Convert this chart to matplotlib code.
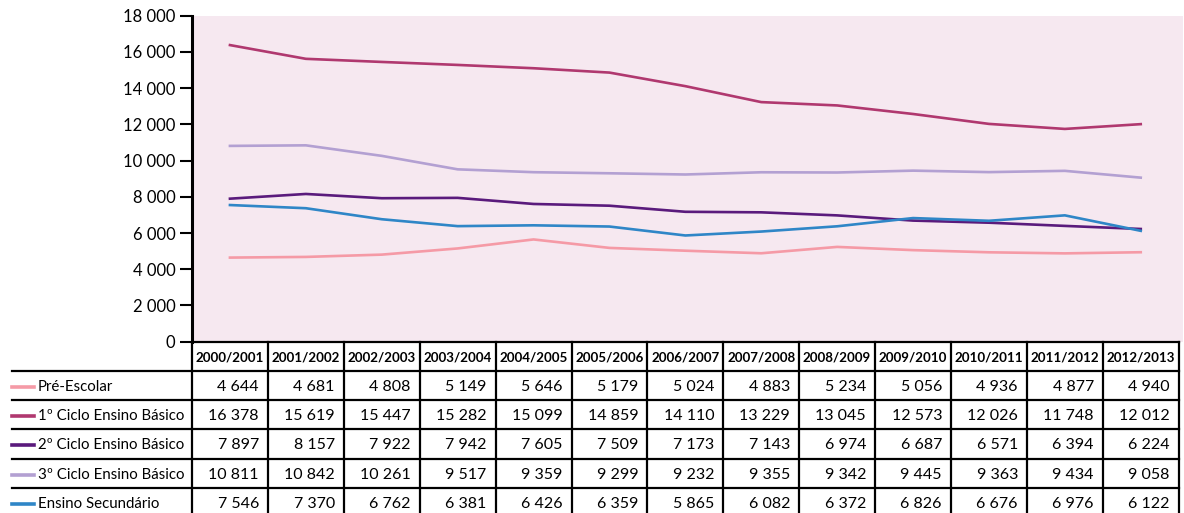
import numpy as np
import matplotlib
matplotlib.use("Agg")
import matplotlib.pyplot as plt
from matplotlib.lines import Line2D

# data
anos = ["2000/2001", "2001/2002", "2002/2003", "2003/2004", "2004/2005",
        "2005/2006", "2006/2007", "2007/2008", "2008/2009", "2009/2010",
        "2010/2011", "2011/2012", "2012/2013"]
series_names = ["Pré-Escolar", "1º Ciclo Ensino Básico", "2º Ciclo Ensino Básico",
                "3º Ciclo Ensino Básico", "Ensino Secundário"]
pre_escolar = [4644, 4681, 4808, 5149, 5646, 5179, 5024, 4883, 5234, 5056, 4936, 4877, 4940]
ciclo1 = [16378, 15619, 15447, 15282, 15099, 14859, 14110, 13229, 13045, 12573, 12026, 11748, 12012]
ciclo2 = [7897, 8157, 7922, 7942, 7605, 7509, 7173, 7143, 6974, 6687, 6571, 6394, 6224]
ciclo3 = [10811, 10842, 10261, 9517, 9359, 9299, 9232, 9355, 9342, 9445, 9363, 9434, 9058]
secundario = [7546, 7370, 6762, 6381, 6426, 6359, 5865, 6082, 6372, 6826, 6676, 6976, 6122]
yticks = list(range(0, 18001, 2000))

series = [pre_escolar, ciclo1, ciclo2, ciclo3, secundario]
colors = ["#F59AA6", "#B0386F", "#5A1A7C", "#B3A0D2", "#2F86C7"]

W, H = 1184, 513
plt.rcParams["font.family"] = ["Lato", "DejaVu Sans"]

fig = plt.figure(figsize=(W / 100, H / 100), dpi=100)

# pixel geometry
x0, x1 = 192, 1183
y_top, y_bot = 15.7, 341.7
col_w = 75.9
row_h = 29.2

ax = fig.add_axes([x0 / W, 1 - y_bot / H, (x1 - x0) / W, (y_bot - y_top) / H])
ax.set_facecolor("#F6E8F0")
x = np.arange(len(anos))
for vals, c in zip(series, colors):
    ax.plot(x, vals, color=c, lw=1.9, solid_joinstyle="round")

ax.set_xlim(-0.5, -0.5 + (x1 - x0) / col_w)
ax.set_ylim(0, 18000)
ax.set_yticks(yticks)
ax.set_yticklabels([f"{v:,}".replace(",", " ") for v in yticks], fontsize=12)
ax.set_xticks([])
for s in ["top", "right", "bottom"]:
    ax.spines[s].set_visible(False)
ax.spines["left"].set_linewidth(2.2)
ax.tick_params(axis="y", length=9, width=1.5, pad=3)

# table drawn in pixel coordinates on an overlay axes
tb = fig.add_axes([0, 0, 1, 1], facecolor="none")
tb.set_xlim(0, W)
tb.set_ylim(H, 0)
tb.axis("off")

lw = 1.6
left = 12
right = x0 + col_w * len(anos)
hdr_top = y_bot
hdr_bot = hdr_top + row_h

# header
tb.add_line(Line2D([x0, right], [hdr_top, hdr_top], color="black", lw=lw))
for i, a in enumerate(anos):
    cx = x0 + col_w * (i + 0.5)
    tb.text(cx, (hdr_top + hdr_bot) / 2 + 1, a, ha="center", va="center",
            fontsize=9.6, fontweight="bold")

# horizontal lines
for r in range(len(series) + 1):
    yy = hdr_bot + r * row_h
    tb.add_line(Line2D([left, right], [yy, yy], color="black", lw=lw))

# vertical lines
for i in range(len(anos) + 1):
    xx = x0 + col_w * i
    tb.add_line(Line2D([xx, xx], [hdr_top, H + 5], color="black", lw=lw))

# rows
for r, (name, vals, c) in enumerate(zip(series_names, series, colors)):
    cy = hdr_bot + (r + 0.5) * row_h + 1.5
    tb.add_line(Line2D([left, left + 22], [cy, cy], color=c, lw=2.6))
    tb.text(left + 26, cy, name, ha="left", va="center", fontsize=10.8)
    for i, v in enumerate(vals):
        xr = x0 + col_w * (i + 1) - 9
        tb.text(xr, cy, f"{v:,}".replace(",", " "), ha="right", va="center", fontsize=11.5)

fig.savefig("out.png", dpi=100)
